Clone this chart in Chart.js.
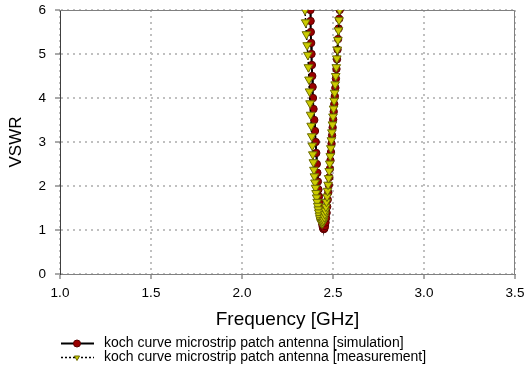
<!DOCTYPE html>
<html><head><meta charset="utf-8">
<script src="https://cdn.jsdelivr.net/npm/chart.js@4/dist/chart.umd.min.js"></script>
<style>html,body{margin:0;padding:0;background:#fff;}canvas{display:block;}</style>
</head><body>
<canvas id="c" width="527" height="369"></canvas>
<script>
const xTicks = [1.0, 1.5, 2.0, 2.5, 3.0, 3.5];
const yTicks = [0, 1, 2, 3, 4, 5, 6];
const seriesLabels = [
  'koch curve microstrip patch antenna [simulation]',
  'koch curve microstrip patch antenna [measurement]'
];
const xTitle = 'Frequency [GHz]';
const yTitle = 'VSWR';

const simFreq = [2.376,2.377,2.378,2.380,2.382,2.384,2.386,2.388,2.390,2.393,2.397,2.401,2.405,2.408,2.411,2.414,2.417,2.420,2.423,2.426,2.429,2.432,2.435,2.438,2.441,2.444,2.447,2.450,
  2.453,2.456,2.459,2.462,2.465,2.468,2.471,2.474,2.477,2.480,2.483,2.486,2.489,2.492,2.495,2.498,2.501,2.504,2.507,2.510,2.513,2.516,2.519,2.522,2.525,2.528,2.531,2.534,2.537];
const simVswr = [6.0,5.75,5.5,5.25,5.0,4.75,4.5,4.25,4.0,3.75,3.5,3.25,3.0,2.75,2.5,2.3,2.1,1.92,1.76,1.62,1.5,1.39,1.29,1.2,1.13,1.07,1.03,1.02,
  1.04,1.09,1.17,1.27,1.39,1.53,1.69,1.85,2.02,2.2,2.39,2.58,2.77,2.96,3.15,3.33,3.51,3.69,3.86,4.04,4.23,4.44,4.66,4.88,5.1,5.34,5.58,5.8,6.0];

const measFreq = [2.346,2.350,2.354,2.358,2.362,2.365,2.368,2.371,2.374,2.377,2.380,2.383,2.386,2.389,2.392,2.395,2.398,2.401,2.404,2.407,2.410,2.413,2.416,2.419,2.422,2.425,2.428,2.431,2.434,2.437,2.440,
  2.443,2.446,2.449,2.452,2.455,2.458,2.461,2.464,2.467,2.470,2.473,2.476,2.479,2.482,2.485,2.488,2.491,2.494,2.497,2.500,2.503,2.506,2.509,2.512,2.515,2.518,2.521,2.524,2.527,2.530,2.533,2.536];
const measVswr = [6.0,5.72,5.45,5.2,4.98,4.7,4.42,4.15,3.88,3.62,3.37,3.13,2.92,2.72,2.54,2.37,2.22,2.08,1.96,1.84,1.74,1.64,1.55,1.47,1.40,1.33,1.27,1.22,1.18,1.16,1.15,
  1.16,1.19,1.23,1.29,1.36,1.44,1.53,1.64,1.76,1.89,2.03,2.18,2.34,2.51,2.68,2.86,3.04,3.22,3.40,3.58,3.76,3.94,4.12,4.31,4.5,4.7,4.9,5.1,5.32,5.54,5.77,6.0];

const FONT = "'Liberation Sans', Arial, sans-serif";
const toPts = (xs, ys) => xs.map((x, i) => ({x: x, y: ys[i]}));

const framePlugin = {
  id: 'frame',
  beforeDatasetsDraw(chart) {
    const {ctx, chartArea: a} = chart;
    ctx.save();
    ctx.strokeStyle = '#808080';
    ctx.lineWidth = 1;
    ctx.beginPath();
    ctx.moveTo(a.left, a.top + 0.5);
    ctx.lineTo(a.right - 0.5, a.top + 0.5);
    ctx.lineTo(a.right - 0.5, a.bottom);
    ctx.stroke();
    ctx.restore();
  }
};

const legendPlugin = {
  id: 'customLegend',
  afterDraw(chart) {
    const ctx = chart.ctx;
    const rows = [343, 357];
    chart.data.datasets.forEach((ds, i) => {
      const y = rows[i];
      ctx.save();
      ctx.strokeStyle = '#000';
      ctx.lineWidth = ds.borderWidth;
      ctx.setLineDash(ds.borderDash || []);
      ctx.beginPath();
      ctx.moveTo(61, y + 0.5);
      ctx.lineTo(94, y + 0.5);
      ctx.stroke();
      ctx.setLineDash([]);
      ctx.fillStyle = ds.pointBackgroundColor;
      ctx.strokeStyle = ds.pointBorderColor;
      ctx.lineWidth = 1;
      Chart.helpers.drawPoint(ctx, {
        pointStyle: ds.pointStyle,
        rotation: ds.pointRotation || 0,
        radius: ds.legendRadius,
        borderWidth: 1
      }, 77, y + 0.5);
      ctx.fillStyle = '#000';
      ctx.font = '14px ' + FONT;
      ctx.textBaseline = 'middle';
      ctx.textAlign = 'left';
      ctx.fillText(ds.label, 104, y + 0.5);
      ctx.restore();
    });
  }
};

const gridOpts = {
  color: '#c0c0c0', lineWidth: 2,
  tickColor: '#555', tickLength: 5, tickWidth: 1, tickBorderDash: [1, 0]
};

new Chart(document.getElementById('c'), {
  type: 'scatter',
  data: {
    datasets: [
      {
        label: seriesLabels[0],
        data: toPts(simFreq, simVswr),
        showLine: true,
        borderColor: '#000',
        borderWidth: 2,
        pointStyle: 'circle',
        pointRadius: 3.7,
        pointBackgroundColor: '#9a0000',
        pointBorderColor: '#5a0000',
        pointBorderWidth: 1,
        legendRadius: 3.5,
        order: 1
      },
      {
        label: seriesLabels[1],
        data: toPts(measFreq, measVswr),
        showLine: true,
        borderColor: '#000',
        borderWidth: 1.5,
        borderDash: [2, 2],
        pointStyle: 'triangle',
        pointRotation: 180,
        pointRadius: 5,
        pointBackgroundColor: '#cccc00',
        pointBorderColor: '#6b6b00',
        pointBorderWidth: 1,
        legendRadius: 3,
        order: 0
      }
    ]
  },
  options: {
    responsive: false,
    animation: false,
    devicePixelRatio: 1,
    layout: {padding: {top: 10, right: 12, left: 0, bottom: 38}},
    plugins: {legend: {display: false}, tooltip: {enabled: false}},
    scales: {
      x: {
        type: 'linear', min: 1, max: 3.5,
        afterBuildTicks: s => { s.ticks = xTicks.map(v => ({value: v})); },
        afterFit: s => { s.height = 57; s.paddingLeft = 0; s.paddingRight = 0; },
        ticks: {
          callback: v => Number(v).toFixed(1),
          font: {family: FONT, size: 13.5}, color: '#000', padding: 6, maxRotation: 0
        },
        grid: gridOpts,
        border: {display: true, color: '#808080', width: 1, dash: [2, 4]},
        title: {display: true, text: xTitle, font: {family: FONT, size: 19}, color: '#000', padding: {top: 0, bottom: 0}}
      },
      y: {
        type: 'linear', min: 0, max: 6,
        afterBuildTicks: s => { s.ticks = yTicks.map(v => ({value: v})); },
        afterFit: s => { s.width = 60; s.paddingTop = 0; s.paddingBottom = 0; },
        ticks: {
          callback: v => String(v),
          font: {family: FONT, size: 13.5}, color: '#000', padding: 9
        },
        grid: gridOpts,
        border: {display: true, color: '#404040', width: 1, dash: [2, 4]},
        title: {display: true, text: yTitle, font: {family: FONT, size: 17}, color: '#000', padding: {top: 6, bottom: 0}}
      }
    }
  },
  plugins: [framePlugin, legendPlugin]
});
</script>
</body></html>
